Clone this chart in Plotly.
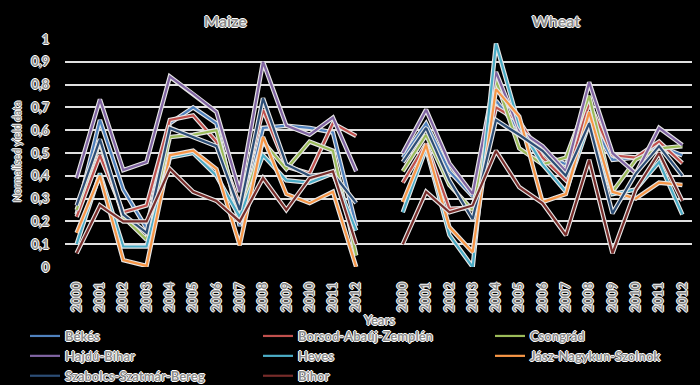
import plotly.graph_objects as go

years = [str(y) for y in range(2000, 2013)]
series_names = ["Békés", "Borsod-Abaúj-Zemplén", "Csongrád", "Hajdú-Bihar", "Heves",
                "Jász-Nagykun-Szolnok", "Szabolcs-Szatmár-Bereg", "Bihor"]
colors = ["#4F81BD", "#C0504D", "#9BBB59", "#8064A2", "#4BACC6", "#F79646", "#2C4D75", "#772C2A"]
legend_slot = ["legend", "legend2", "legend3", "legend", "legend2", "legend3", "legend", "legend2"]

maize_bekes = [0.23, 0.645, 0.34, 0.17, 0.63, 0.70, 0.63, 0.18, 0.61, 0.62, 0.61, 0.59, 0.18]
maize_borsod = [0.22, 0.49, 0.24, 0.27, 0.645, 0.665, 0.55, 0.27, 0.69, 0.44, 0.41, 0.63, 0.575]
maize_csongrad = [0.25, 0.55, 0.22, 0.12, 0.57, 0.58, 0.60, 0.22, 0.55, 0.43, 0.55, 0.51, 0.05]
maize_hajdu = [0.39, 0.735, 0.425, 0.46, 0.835, 0.76, 0.68, 0.33, 0.90, 0.62, 0.58, 0.655, 0.42]
maize_heves = [0.10, 0.41, 0.09, 0.09, 0.48, 0.50, 0.40, 0.22, 0.49, 0.38, 0.37, 0.41, 0.16]
maize_jasz = [0.15, 0.40, 0.03, 0.005, 0.49, 0.51, 0.43, 0.095, 0.57, 0.32, 0.28, 0.33, 0.0]
maize_szabolcs = [0.27, 0.56, 0.23, 0.15, 0.61, 0.57, 0.53, 0.25, 0.74, 0.45, 0.40, 0.41, 0.28]
maize_bihor = [0.06, 0.27, 0.20, 0.20, 0.43, 0.33, 0.29, 0.20, 0.39, 0.25, 0.39, 0.42, 0.10]

wheat_bekes = [0.48, 0.63, 0.42, 0.31, 0.73, 0.60, 0.50, 0.45, 0.66, 0.47, 0.48, 0.53, 0.49]
wheat_borsod = [0.37, 0.54, 0.255, 0.26, 0.70, 0.64, 0.48, 0.38, 0.72, 0.49, 0.48, 0.55, 0.455]
wheat_csongrad = [0.42, 0.58, 0.36, 0.25, 0.82, 0.52, 0.45, 0.48, 0.75, 0.33, 0.47, 0.52, 0.53]
wheat_hajdu = [0.50, 0.69, 0.455, 0.32, 0.855, 0.60, 0.53, 0.42, 0.81, 0.50, 0.41, 0.61, 0.535]
wheat_heves = [0.24, 0.52, 0.14, 0.0, 0.98, 0.62, 0.45, 0.33, 0.63, 0.32, 0.34, 0.46, 0.23]
wheat_jasz = [0.285, 0.535, 0.175, 0.065, 0.78, 0.66, 0.285, 0.32, 0.68, 0.33, 0.30, 0.37, 0.36]
wheat_szabolcs = [0.46, 0.61, 0.38, 0.21, 0.645, 0.58, 0.51, 0.40, 0.63, 0.235, 0.41, 0.53, 0.40]
wheat_bihor = [0.10, 0.33, 0.24, 0.27, 0.51, 0.35, 0.28, 0.14, 0.47, 0.06, 0.34, 0.50, 0.29]

maize = [maize_bekes, maize_borsod, maize_csongrad, maize_hajdu, maize_heves,
         maize_jasz, maize_szabolcs, maize_bihor]
wheat = [wheat_bekes, wheat_borsod, wheat_csongrad, wheat_hajdu, wheat_heves,
         wheat_jasz, wheat_szabolcs, wheat_bihor]

y_tick_vals = [0, 0.1, 0.2, 0.3, 0.4, 0.5, 0.6, 0.7, 0.8, 0.9, 1]
y_tick_text = ["0", "0,1", "0,2", "0,3", "0,4", "0,5", "0,6", "0,7", "0,8", "0,9", "1"]

n = len(years)
xpos = list(range(n)) + [n] + list(range(n + 1, 2 * n + 1))
tick_x = list(range(n)) + list(range(n + 1, 2 * n + 1))
tick_labels = years + years

FONT = "Lato"
shadow = "1px 0 0 #ffffff, -1px 0 0 #ffffff, 0 1px 0 #ffffff, 0 -1px 0 #ffffff"
tfont = dict(family=FONT, color="#8c8c8c", shadow=shadow, weight="bold")

fig = go.Figure()
for name, col, m, w, lg in zip(series_names, colors, maize, wheat, legend_slot):
    yy = m + [None] + w
    fig.add_trace(go.Scatter(x=xpos, y=yy, mode="lines", showlegend=False,
                             hoverinfo="skip", connectgaps=False,
                             line=dict(color="#e6e6e6", width=4.5)))
    fig.add_trace(go.Scatter(x=xpos, y=yy, mode="lines", name=name, legend=lg,
                             connectgaps=False, line=dict(color=col, width=2.2)))

# the page body has an 8px margin, so the figure is 8px smaller than the window
W, H = 692, 377
leg_common = dict(orientation="v", yref="container", y=1 - 313 / H, yanchor="top",
                  xref="container", xanchor="left", maxheight=120,
                  font=dict(size=13, **tfont), bgcolor="rgba(0,0,0,0)",
                  itemwidth=30, tracegroupgap=0)

fig.update_layout(
    width=W, height=H,
    paper_bgcolor="#000000", plot_bgcolor="#000000",
    margin=dict(l=57, r=6, t=31, b=118, autoexpand=False),
    xaxis=dict(range=[-0.5, 2 * n + 0.5], tickmode="array", tickvals=tick_x,
               ticktext=tick_labels, tickangle=-90, showgrid=False, zeroline=False,
               showline=False, ticks="outside", ticklen=9, tickcolor="#000000",
               tickfont=dict(size=13, **tfont),
               title=dict(text="Years", font=dict(size=13, **tfont), standoff=0)),
    yaxis=dict(range=[0, 1.0], tickmode="array", tickvals=y_tick_vals,
               ticktext=y_tick_text, showgrid=True, gridcolor="#e0e0e0", gridwidth=2,
               zeroline=False, showline=False, ticks="outside", ticklen=12,
               tickcolor="#000000",
               tickfont=dict(size=13, **tfont)),
    legend=dict(x=17 / W, **leg_common),
    legend2=dict(x=250 / W, **leg_common),
    legend3=dict(x=482 / W, **leg_common),
    annotations=[
        dict(text="Maize", x=6.4, y=1, xref="x", yref="paper", yanchor="middle",
             yshift=19, showarrow=False, font=dict(size=16, **tfont)),
        dict(text="Wheat", x=20.57, y=1, xref="x", yref="paper", yanchor="middle",
             yshift=19, showarrow=False, font=dict(size=16, **tfont)),
        dict(text="Normalised yield data", x=-0.0763, y=0.504, xref="paper",
             yref="paper", xanchor="center", yanchor="middle", textangle=-90,
             showarrow=False, font=dict(size=10.5, **tfont)),
    ],
)

fig.write_html("out.html",
               post_script="document.body.style.background='#000000';"
                           "document.documentElement.style.background='#000000';")
